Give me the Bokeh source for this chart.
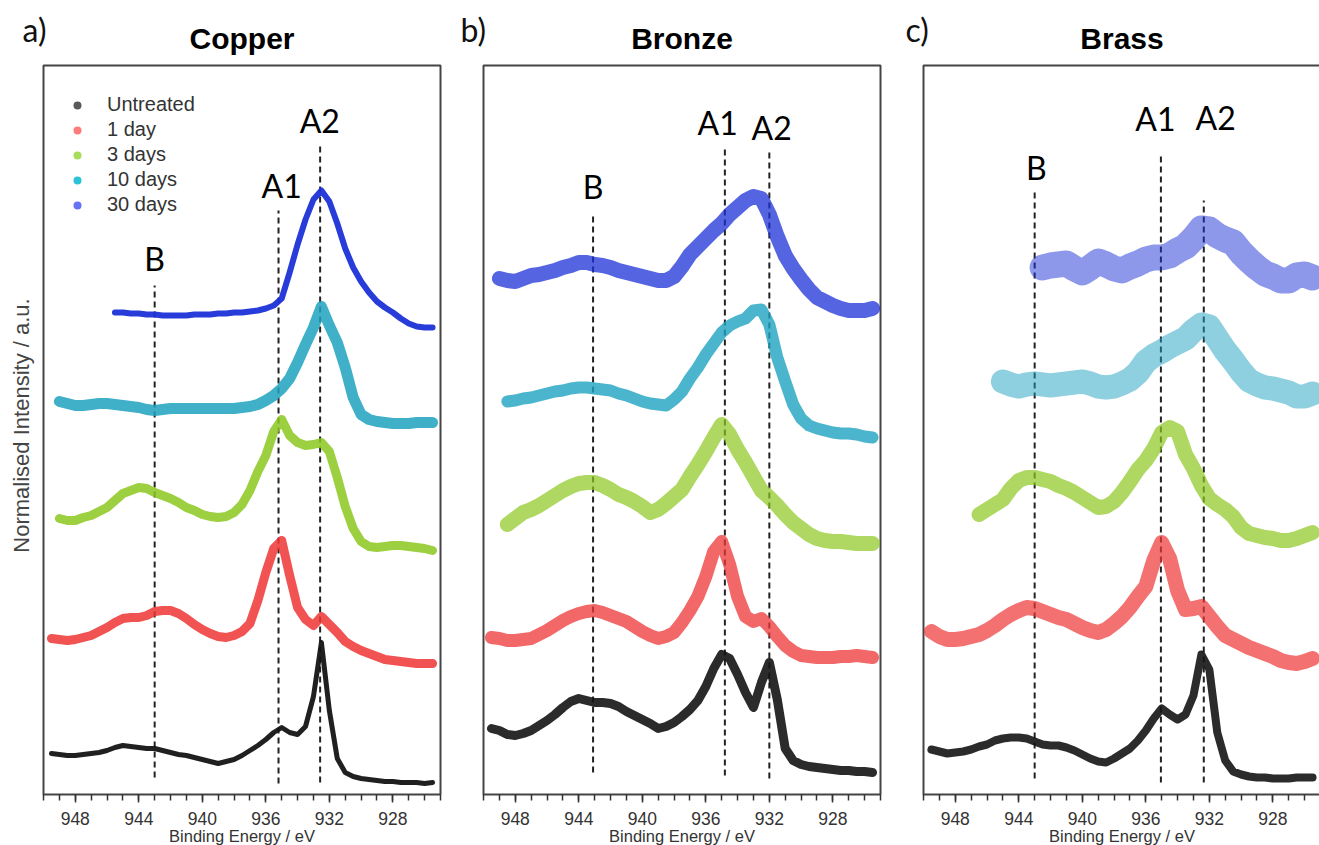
from math import pi
from bokeh.plotting import figure
from bokeh.layouts import row
from bokeh.models import Range1d, FixedTicker, Legend, LegendItem
from bokeh.core.properties import value
from bokeh.embed import file_html
from bokeh.resources import INLINE

nan = float("nan")

# Binding energy grid (eV)
energy = [949.5, 949.0, 948.5, 948.0, 947.5, 947.0, 946.5, 946.0, 945.5,
          945.0, 944.5, 944.0, 943.5, 943.0, 942.5, 942.0, 941.5, 941.0,
          940.5, 940.0, 939.5, 939.0, 938.5, 938.0, 937.5, 937.0, 936.5,
          936.0, 935.5, 935.0, 934.5, 934.0, 933.5, 933.0, 932.5, 932.0,
          931.5, 931.0, 930.5, 930.0, 929.5, 929.0, 928.5, 928.0, 927.5,
          927.0, 926.5, 926.0, 925.5]

series_names = ["Untreated", "1 day", "3 days", "10 days", "30 days"]
series_colors = ["#141414", "#ee3434", "#8cc81e", "#1ea2c0", "#1c32d8"]
legend_colors = ["#5a5a5a", "#ff7c7c", "#a8dc5a", "#2cc3d6", "#6474f2"]

# ---- Copper (normalised intensity, offset stacked) ----
copper_untreated = [4.1, 4.0, 3.9, 3.9, 4.0, 4.1, 4.2, 4.4, 4.7,
                    4.9, 4.8, 4.7, 4.6, 4.6, 4.4, 4.2, 4.0, 3.9,
                    3.7, 3.5, 3.3, 3.1, 3.3, 3.5, 3.9, 4.4, 4.9,
                    5.5, 6.2, 6.7, 6.2, 6.0, 6.8, 9.8, 15.2, 8.4,
                    3.6, 2.2, 1.8, 1.6, 1.5, 1.4, 1.3, 1.3, 1.2,
                    1.2, 1.2, 1.1, 1.2]
copper_1day = [15.6, 15.5, 15.4, 15.5, 15.7, 15.9, 16.3, 16.7, 17.2,
               17.6, 17.7, 17.7, 17.9, 18.3, 18.4, 18.4, 18.1, 17.6,
               17.0, 16.5, 16.1, 15.8, 15.7, 15.9, 16.3, 17.1, 19.4,
               22.2, 24.6, 25.4, 21.9, 18.7, 17.5, 16.9, 17.8, 17.0,
               16.2, 15.3, 14.8, 14.4, 14.1, 13.8, 13.5, 13.4, 13.3,
               13.2, 13.1, 13.1, 13.1]
copper_3days = [nan, 27.6, 27.4, 27.4, 27.7, 27.9, 28.3, 28.7, 29.4,
                30.1, 30.4, 30.7, 30.6, 30.2, 29.9, 29.6, 29.2, 28.7,
                28.4, 28.0, 27.8, 27.7, 27.8, 28.2, 29.0, 30.4, 32.3,
                33.9, 36.3, 37.5, 35.9, 35.2, 34.9, 35.0, 35.2, 34.3,
                31.7, 28.8, 26.6, 25.3, 24.8, 24.7, 24.8, 24.9, 24.9,
                24.8, 24.7, 24.6, 24.4]
copper_10days = [nan, 39.3, 39.1, 38.9, 38.9, 39.0, 39.1, 39.1, 39.0,
                 38.9, 38.8, 38.7, 38.5, 38.4, 38.5, 38.6, 38.6, 38.6,
                 38.6, 38.6, 38.6, 38.6, 38.6, 38.6, 38.7, 38.8, 39.0,
                 39.4, 39.9, 40.6, 41.6, 43.2, 45.0, 46.7, 48.8, 46.9,
                 45.2, 42.7, 39.7, 38.0, 37.5, 37.3, 37.2, 37.1, 37.1,
                 37.1, 37.2, 37.2, 37.2]
copper_30days = [nan, nan, nan, nan, nan, nan, nan, nan, 48.2,
                 48.2, 48.1, 48.1, 48.0, 48.0, 47.9, 47.9, 47.9, 47.9,
                 48.0, 48.0, 48.0, 48.1, 48.1, 48.2, 48.2, 48.3, 48.4,
                 48.6, 48.9, 49.6, 52.2, 55.0, 57.5, 59.5, 60.4, 59.3,
                 57.1, 54.6, 52.7, 51.3, 50.2, 49.3, 48.7, 48.2, 47.6,
                 47.1, 46.8, 46.7, 46.7]

# ---- Bronze ----
bronze_untreated = [6.6, 6.4, 6.0, 5.9, 6.1, 6.4, 6.9, 7.4, 8.0,
                    8.7, 9.3, 9.6, 9.4, 9.2, 9.2, 9.1, 8.8, 8.3,
                    7.9, 7.5, 7.1, 6.6, 6.8, 7.2, 7.8, 8.5, 9.4,
                    10.8, 12.6, 14.0, 13.6, 12.0, 10.2, 8.7, 11.2, 13.2,
                    9.5, 4.6, 3.4, 3.0, 2.8, 2.7, 2.6, 2.5, 2.4,
                    2.4, 2.3, 2.3, 2.2]
bronze_1day = [15.7, 15.6, 15.4, 15.4, 15.5, 15.6, 16.0, 16.4, 16.9,
               17.4, 17.8, 18.1, 18.3, 18.4, 18.2, 17.9, 17.6, 17.3,
               16.8, 16.3, 15.9, 15.6, 15.8, 16.2, 17.2, 18.4, 19.8,
               21.8, 24.3, 25.3, 23.0, 19.8, 17.8, 17.3, 17.6, 16.8,
               15.8, 14.9, 14.3, 13.9, 13.8, 13.7, 13.7, 13.7, 13.8,
               13.8, 13.9, 13.8, 13.7]
bronze_3days = [nan, nan, 27.0, 27.6, 28.2, 28.5, 28.9, 29.4, 29.9,
                30.4, 30.8, 31.1, 31.2, 31.2, 30.9, 30.5, 30.0, 29.7,
                29.3, 28.8, 28.2, 28.5, 29.1, 29.8, 30.5, 31.8, 33.0,
                34.3, 35.7, 37.0, 36.0, 34.5, 33.2, 31.8, 30.4, 29.7,
                28.9, 28.0, 27.2, 26.6, 26.0, 25.6, 25.4, 25.3, 25.3,
                25.2, 25.1, 25.1, 25.1]
bronze_10days = [nan, nan, 39.3, 39.4, 39.6, 39.7, 39.9, 40.1, 40.3,
                 40.4, 40.6, 40.7, 40.7, 40.6, 40.5, 40.4, 40.1, 39.9,
                 39.6, 39.3, 39.1, 39.0, 38.9, 39.5, 40.3, 41.6, 42.7,
                 44.0, 45.1, 46.2, 46.9, 47.3, 47.6, 48.4, 48.5, 47.0,
                 43.7, 41.3, 39.0, 37.6, 36.9, 36.6, 36.4, 36.2, 36.1,
                 36.1, 36.0, 35.8, 35.7]
bronze_30days = [nan, 51.6, 51.4, 51.3, 51.6, 51.9, 52.0, 52.2, 52.4,
                 52.7, 52.9, 53.2, 53.2, 53.0, 52.9, 52.7, 52.4, 52.2,
                 52.0, 51.8, 51.6, 51.4, 51.4, 51.8, 52.8, 54.0, 54.8,
                 55.6, 56.4, 57.1, 58.0, 58.7, 59.4, 59.8, 59.6, 58.0,
                 55.8, 53.9, 52.6, 51.5, 50.5, 49.7, 49.3, 48.9, 48.6,
                 48.4, 48.4, 48.4, 48.6]

# ---- Brass ----
brass_untreated = [4.5, 4.3, 4.1, 4.2, 4.3, 4.5, 4.8, 5.0, 5.4,
                   5.6, 5.7, 5.7, 5.6, 5.3, 5.0, 4.9, 4.9, 4.7,
                   4.4, 4.0, 3.6, 3.3, 3.2, 3.6, 4.1, 4.6, 5.4,
                   6.4, 7.6, 8.6, 8.0, 7.5, 8.0, 9.9, 14.0, 12.5,
                   6.2, 3.4, 2.3, 2.0, 1.8, 1.7, 1.7, 1.6, 1.6,
                   1.6, 1.7, 1.7, 1.7]
brass_1day = [16.3, 15.8, 15.5, 15.5, 15.6, 15.8, 16.0, 16.4, 16.9,
              17.5, 18.0, 18.4, 18.7, 18.6, 18.3, 18.0, 17.7, 17.5,
              17.1, 16.7, 16.4, 16.2, 16.5, 17.1, 17.8, 18.7, 19.8,
              20.8, 23.4, 25.2, 23.6, 20.4, 18.5, 18.6, 18.8, 17.8,
              16.8, 15.9, 15.5, 15.1, 14.7, 14.4, 14.1, 13.8, 13.4,
              13.2, 13.1, 13.3, 13.6]
brass_3days = [nan, nan, nan, nan, nan, nan, 28.0, 28.5, 29.0,
               29.5, 30.6, 31.4, 31.7, 31.7, 31.5, 31.3, 30.9, 30.6,
               30.2, 29.7, 29.2, 28.7, 28.8, 29.3, 30.2, 31.3, 32.5,
               33.4, 34.6, 36.2, 36.7, 36.3, 34.0, 32.6, 30.9, 29.6,
               29.0, 28.5, 27.8, 26.7, 26.1, 25.9, 25.7, 25.6, 25.4,
               25.4, 25.6, 25.9, 26.2]
brass_10days = [nan, nan, nan, nan, nan, nan, nan, nan, nan,
                41.3, 41.0, 40.8, 41.0, 41.1, 41.0, 40.9, 41.0, 41.1,
                41.2, 41.3, 41.1, 40.8, 40.7, 40.8, 41.1, 41.5, 42.2,
                43.3, 43.9, 44.3, 44.8, 45.2, 45.6, 46.4, 47.0, 46.8,
                45.6, 44.4, 43.4, 42.3, 41.4, 41.0, 40.7, 40.6, 40.4,
                40.2, 39.8, 39.8, 40.1]
brass_30days = [nan, nan, nan, nan, nan, nan, nan, nan, nan,
                nan, nan, nan, nan, nan, 52.7, 52.9, 53.0, 53.1,
                52.6, 52.2, 52.7, 53.3, 53.0, 52.6, 52.4, 52.8, 53.1,
                53.5, 53.7, 53.7, 53.9, 54.4, 54.8, 55.6, 56.6, 56.5,
                55.9, 55.5, 55.2, 54.2, 53.4, 52.7, 52.1, 51.8, 51.4,
                51.4, 51.9, 52.0, 51.7]

# Peak guide lines (energy, bottom, top) and peak labels
guide_labels = ["B", "A1", "A2"]
copper_guide_x = [943.0, 935.2, 932.58]
copper_guide_bottom = [1.7, 1.1, 1.2]
copper_guide_top = [50.9, 58.4, 65.2]
copper_label_x = [943.0, 935.0, 932.6]
copper_label_y = [53.6, 60.9, 67.4]

bronze_guide_x = [943.1, 934.8, 932.0]
bronze_guide_bottom = [2.2, 1.9, 1.6]
bronze_guide_top = [58.2, 64.6, 64.4]
bronze_label_x = [943.1, 935.25, 931.85]
bronze_label_y = [60.8, 67.2, 66.7]

brass_guide_x = [943.0, 935.05, 932.35]
brass_guide_bottom = [1.6, 1.2, 1.2]
brass_guide_top = [60.2, 64.1, 59.4]
brass_label_x = [942.9, 935.4, 931.6]
brass_label_y = [62.7, 67.6, 67.7]

major_ticks = [948, 944, 940, 936, 932, 928]
minor_ticks = list(range(925, 951))

# plot box in data units (energy from 950 to 925 eV, intensity 0 to 72.9)
BOX_E_HI, BOX_E_LO, BOX_I_LO, BOX_I_HI = 950.0, 925.0, 0.0, 72.9
PX_PER_EV = 15.88

FONT = "Liberation Sans"


def make_panel(title, letter, letter_x, spectra, widths, alphas,
               gx, gb, gt, lx, ly, fig_width, pad_left, pad_right,
               ylabel=False, legend=False, open_right=False):
    x_start = BOX_E_HI + pad_left / PX_PER_EV
    x_end = BOX_E_LO - pad_right / PX_PER_EV
    p = figure(width=fig_width, height=845,
               x_range=Range1d(x_start, x_end), y_range=Range1d(-5.1, 79.4),
               output_backend="svg", toolbar_location=None,
               min_border_left=0, min_border_right=0,
               min_border_top=0, min_border_bottom=0)
    p.grid.visible = False
    p.outline_line_color = None
    p.background_fill_color = "white"
    p.border_fill_color = "white"
    p.yaxis.visible = False

    xa = p.xaxis[0]
    xa.fixed_location = BOX_I_LO
    xa.ticker = FixedTicker(ticks=major_ticks, minor_ticks=minor_ticks)
    xa.major_tick_in = 0
    xa.major_tick_out = 8
    xa.minor_tick_in = 0
    xa.minor_tick_out = 6
    xa.major_tick_line_width = 1.5
    xa.minor_tick_line_width = 1.5
    xa.major_tick_line_color = "#333333"
    xa.minor_tick_line_color = "#333333"
    xa.axis_line_color = None
    xa.major_label_text_font = FONT
    xa.major_label_text_font_size = "17.5px"
    xa.major_label_text_color = "#333333"
    xa.major_label_standoff = 9

    # plot box
    if open_right:
        p.line([x_end, BOX_E_HI, BOX_E_HI, x_end],
               [BOX_I_HI, BOX_I_HI, BOX_I_LO, BOX_I_LO],
               line_color="#444444", line_width=2)
    else:
        p.quad(left=[BOX_E_HI], right=[BOX_E_LO], bottom=[BOX_I_LO], top=[BOX_I_HI],
               fill_color=None, line_color="#444444", line_width=2)

    # guide lines
    p.segment(x0=gx, y0=gb, x1=gx, y1=gt, line_dash="6 4",
              line_width=2, line_color="#222222")
    p.text(x=lx, y=ly, text=guide_labels, text_font=value("Lato"),
           text_font_size="32px", text_align="center",
           text_baseline="alphabetic", text_color="#000000")

    # spectra
    for vals, col, w, a in zip(spectra, series_colors, widths, alphas):
        p.line(energy, vals, line_width=w, line_color=col, line_alpha=a,
               line_join="round", line_cap="round")

    # texts
    centre = (BOX_E_HI + BOX_E_LO) / 2
    p.text(x=[centre], y=[75.6], text=[title], text_align="center",
           text_baseline="alphabetic", text_font=value(FONT),
           text_font_style="bold", text_font_size="30px", text_color="#000000")
    p.text(x=[letter_x], y=[76.5], text=[letter], text_align="left",
           text_baseline="alphabetic", text_font=value("Lato"),
           text_font_size="32px", text_color="#111111")
    p.text(x=[centre], y=[-4.1], text=["Binding Energy / eV"],
           text_align="center", text_baseline="alphabetic",
           text_font=value(FONT), text_font_size="16.5px", text_color="#333333")
    if ylabel:
        p.text(x=[951.38], y=[36.9], text=["Normalised Intensity / a.u."],
               angle=pi / 2, text_align="center", text_baseline="alphabetic",
               text_font=value(FONT), text_font_size="22px", text_color="#444444")
    if legend:
        items = []
        for name, lc in zip(series_names, legend_colors):
            r = p.scatter(x=[nan], y=[nan], size=7, fill_color=lc, line_color=None)
            items.append(LegendItem(label=name, renderers=[r]))
        lg = Legend(items=items, location=(67, 629), padding=0, margin=0,
                    spacing=2, glyph_width=20, glyph_height=20,
                    label_height=20, label_standoff=20,
                    border_line_color=None, background_fill_alpha=0,
                    label_text_font=FONT, label_text_font_size="20px",
                    label_text_color="#333333")
        p.add_layout(lg)
    return p


pa = make_panel("Copper", "a)", 951.32,
                [copper_untreated, copper_1day, copper_3days, copper_10days, copper_30days],
                [5, 9, 9, 11, 6], [0.95, 0.85, 0.85, 0.85, 0.95],
                copper_guide_x, copper_guide_bottom, copper_guide_top,
                copper_label_x, copper_label_y,
                455, 43, 15, ylabel=True, legend=True)
pb = make_panel("Bronze", "b)", 951.45,
                [bronze_untreated, bronze_1day, bronze_3days, bronze_10days, bronze_30days],
                [9, 13, 15, 12, 15], [0.9, 0.75, 0.7, 0.8, 0.75],
                bronze_guide_x, bronze_guide_bottom, bronze_guide_top,
                bronze_label_x, bronze_label_y,
                445, 28, 20)
pc = make_panel("Brass", "c)", 951.13,
                [brass_untreated, brass_1day, brass_3days, brass_10days, brass_30days],
                [8, 15, 15, 24, 26], [0.9, 0.7, 0.7, 0.5, 0.5],
                brass_guide_x, brass_guide_bottom, brass_guide_top,
                brass_label_x, brass_label_y,
                419, 23, -1, open_right=True)

layout = row(pa, pb, pc)
open("out.html", "w").write(file_html(layout, INLINE))
